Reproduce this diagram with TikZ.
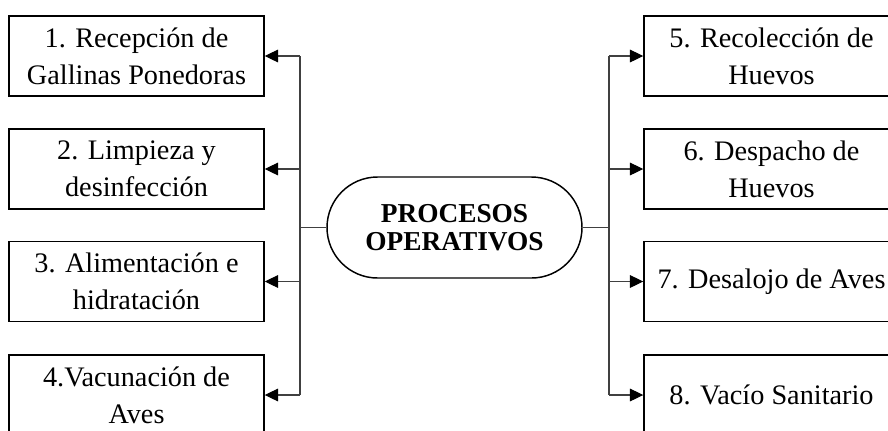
\documentclass[tikz,border=0pt]{standalone}
\usepackage{fontspec}
\setmainfont{Liberation Serif}
\usetikzlibrary{arrows.meta}
\begin{document}
\begin{tikzpicture}[x=0.75pt,y=-0.75pt,
  procbox/.style={draw=black, line width=1.1pt, minimum width=191.25pt, minimum height=60pt,
    inner sep=0pt, align=center, font=\fontsize{21.2}{27.75}\selectfont},
  hub/.style={draw=black, line width=1.1pt, rounded corners=37.9pt, minimum width=191.25pt,
    minimum height=75.75pt, inner sep=0pt, align=center, font=\fontsize{20.5}{21}\selectfont\bfseries},
  conn/.style={draw=black!75, line width=0.8pt},
  arr/.style={conn, -{Triangle[length=10pt,width=9.5pt,color=black]}}]
\useasboundingbox (0,0) rectangle (888,430);
\node[hub] (hub) at (454.5,227.5) {PROCESOS\\OPERATIVOS};
\node[procbox] (b1) at (136.5,56) {1. Recepción de\\Gallinas Ponedoras};
\node[procbox] (b2) at (136.5,169) {2. Limpieza y\\desinfección};
\node[procbox] (b3) at (136.5,281.5) {3. Alimentación e\\hidratación};
\node[procbox] (b4) at (136.5,395) {4.Vacunación de\\Aves};
\node[procbox] (b5) at (771.5,56) {5. Recolección de\\Huevos};
\node[procbox] (b6) at (771.5,169) {6. Despacho de\\Huevos};
\node[procbox] (b7) at (771.5,281.5) {7. Desalojo de Aves};
\node[procbox] (b8) at (771.5,395) {8. Vacío Sanitario};
\coordinate (lj) at (300,227.5);
\coordinate (rj) at (609,227.5);
\draw[conn] (hub.west) -- (lj);
\draw[conn] (hub.east) -- (rj);
\draw[conn] (lj |- b1.east) -- (lj |- b4.east);
\draw[conn] (rj |- b5.west) -- (rj |- b8.west);
\foreach \b in {b1,b2,b3,b4} \draw[arr] (lj |- \b.east) -- (\b.east);
\foreach \b in {b5,b6,b7,b8} \draw[arr] (rj |- \b.west) -- (\b.west);
\end{tikzpicture}
\end{document}
